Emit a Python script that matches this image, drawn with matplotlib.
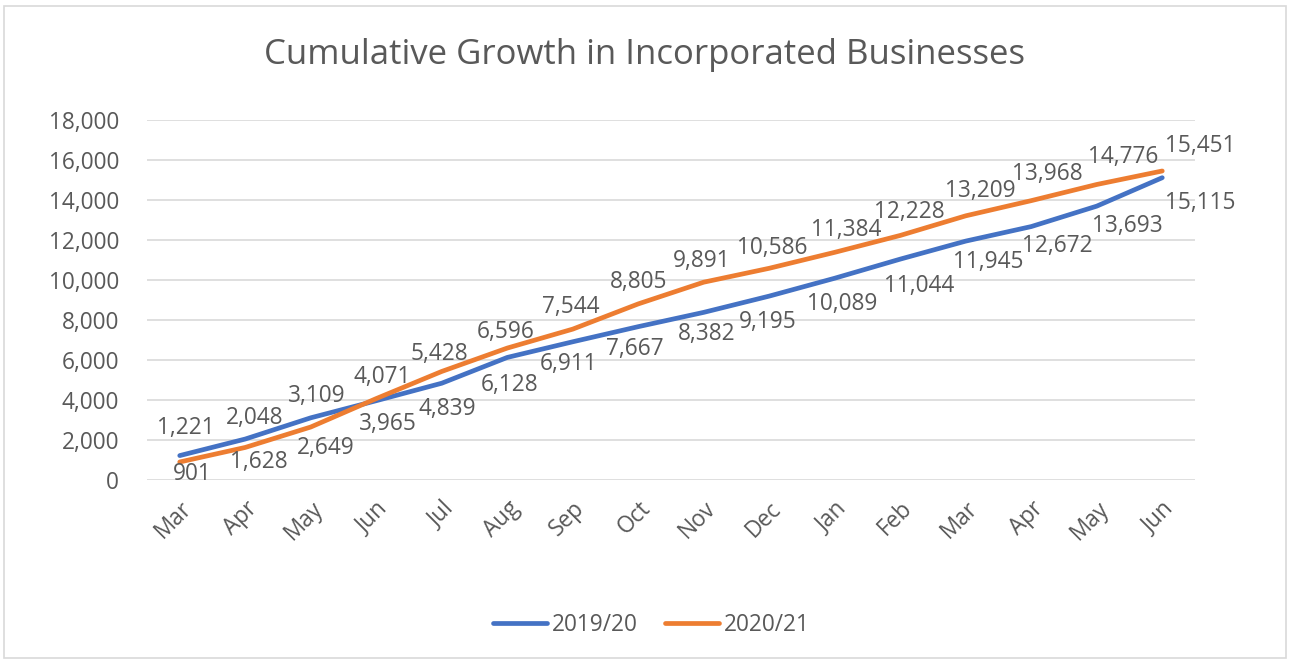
import matplotlib
matplotlib.use("Agg")
import matplotlib.pyplot as plt
from matplotlib.patches import Rectangle

months = ["Mar", "Apr", "May", "Jun", "Jul", "Aug", "Sep", "Oct", "Nov", "Dec",
          "Jan", "Feb", "Mar", "Apr", "May", "Jun"]
s2019 = [1221, 2048, 3109, 3965, 4839, 6128, 6911, 7667, 8382, 9195,
         10089, 11044, 11945, 12672, 13693, 15115]
s2020 = [901, 1628, 2649, 4071, 5428, 6596, 7544, 8805, 9891, 10586,
         11384, 12228, 13209, 13968, 14776, 15451]
yticks = [0, 2000, 4000, 6000, 8000, 10000, 12000, 14000, 16000, 18000]

# label offsets from their point, in pixels (dx, dy; dy positive = up)
off2019 = [(6, 28), (9, 21), (6, 22), (12, -23), (6, -26), (2, -28), (-4, -22), (-3, -22),
           (3, -22), (-2, -26), (7, -26), (19, -27), (22, -21), (26, -19), (31, -20), (38, -25)]
off2020 = [(13, -12), (14, -15), (15, -21), (6, 22), (-2, 17), (-2, 16), (-2, 22), (0, 22),
           (-2, 21), (3, 20), (11, 22), (9, 23), (15, 25), (16, 27), (26, 27), (38, 25)]

plt.rcParams['font.family'] = ['Open Sans', 'DejaVu Sans']
TXT = '#595959'
BLUE = '#4472C4'
ORANGE = '#ED7D31'
FS = 16.3

fig = plt.figure(figsize=(12.9, 6.62), dpi=100)
fig.patches.append(Rectangle((0.003, 0.006), 0.994, 0.985, transform=fig.transFigure,
                             fill=False, edgecolor='#D9D9D9', linewidth=1.2))
ax = fig.add_axes([147/1290, 1 - 480/662, (1195-147)/1290, 360/662])

x = list(range(len(months)))
ax.plot(x, s2019, color=BLUE, lw=3.4, solid_capstyle='round', label='2019/20', zorder=3)
ax.plot(x, s2020, color=ORANGE, lw=3.4, solid_capstyle='round', label='2020/21', zorder=3)

ax.set_xlim(-0.5, len(months) - 0.5)
ax.set_ylim(0, 18000)
ax.set_yticks(yticks)
ax.set_yticklabels([f"{v:,}" for v in yticks])
ax.set_xticks(x)
ax.set_xticklabels(months, rotation=45, ha='right', rotation_mode='anchor')
ax.tick_params(axis='both', length=0, labelsize=FS, colors=TXT)
ax.tick_params(axis='y', pad=20)
ax.tick_params(axis='x', pad=12)
ax.grid(axis='y', color='#D9D9D9', lw=1.2)
ax.set_axisbelow(True)
for sp in ax.spines.values():
    sp.set_visible(False)

for series, offs in ((s2019, off2019), (s2020, off2020)):
    for i, v in enumerate(series):
        dx, dy = offs[i]
        ax.annotate(f"{v:,}", (i, v), xytext=(dx, dy), textcoords='offset pixels',
                    ha='center', va='center', fontsize=FS, color=TXT, annotation_clip=False)

fig.text(0.5, 1 - 55/662, "Cumulative Growth in Incorporated Businesses",
         ha='center', va='center', fontsize=25, color=TXT)

leg = fig.legend(loc='center', bbox_to_anchor=(0.505, 1 - 625/662), ncol=2,
                 frameon=False, fontsize=FS, handlelength=2.4, handletextpad=0.2,
                 columnspacing=1.2)
for t in leg.get_texts():
    t.set_color(TXT)

fig.savefig("out.png", dpi=100)
